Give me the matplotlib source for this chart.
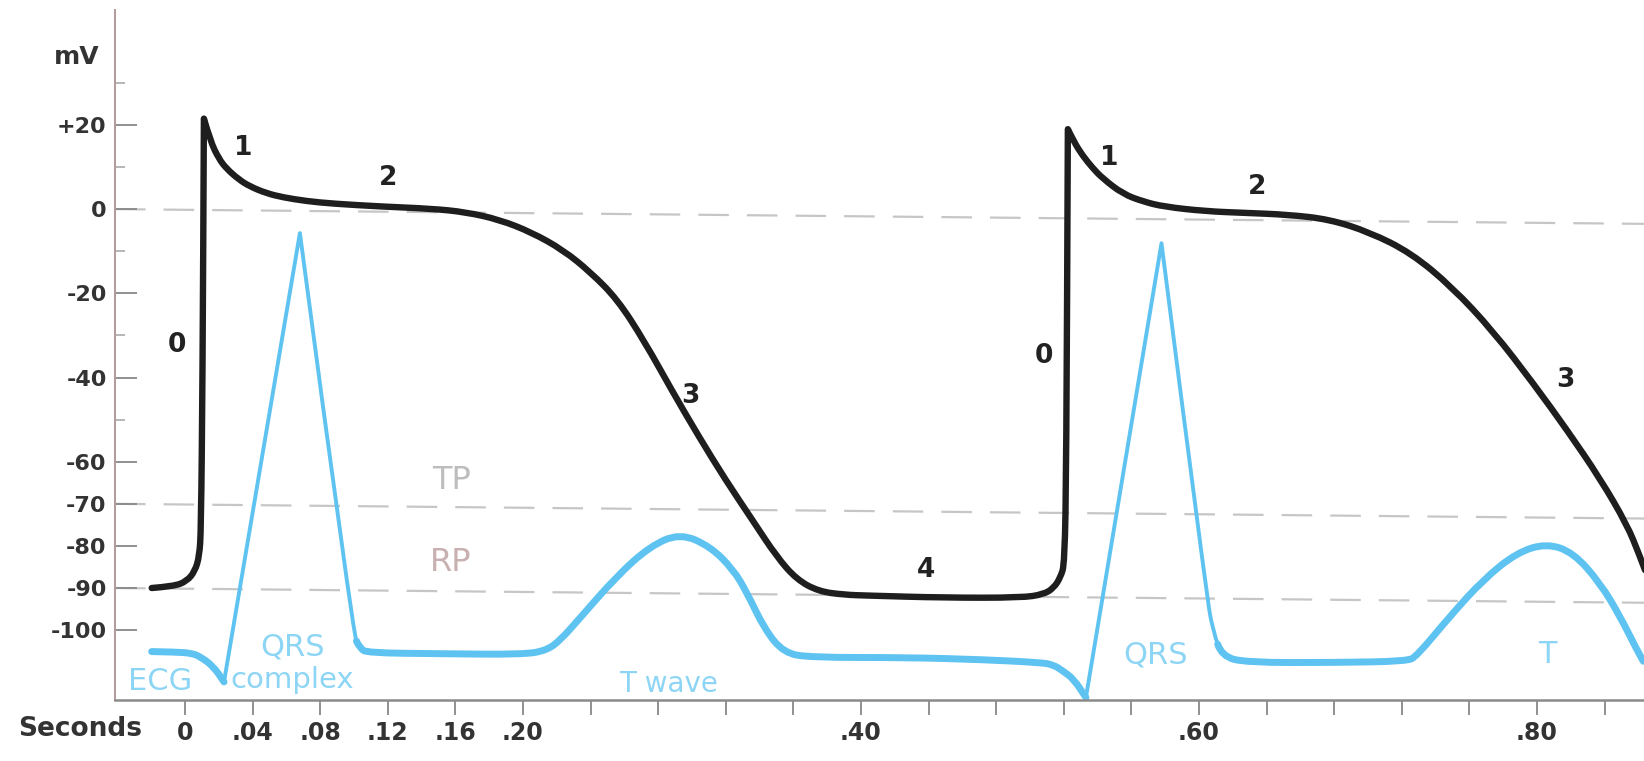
import matplotlib.pyplot as plt
import numpy as np
from matplotlib.path import Path
from matplotlib.patches import PathPatch

plt.rcParams['font.family'] = ['DejaVu Sans']
plt.rcParams['lines.scale_dashes'] = False

# --- data (time in s, potential in mV) ---
# ventricular action potential, two beats
ap_t = [-0.0197, -0.0068, 0.0010, 0.0059, 0.0085, 0.0095, 0.0104, 0.0112,
        0.0150, 0.0200, 0.0246, 0.0320, 0.0384, 0.0480, 0.0579, 0.0720,
        0.0874, 0.117, 0.146, 0.166, 0.186, 0.205, 0.2237, 0.240, 0.256,
        0.272, 0.288, 0.304, 0.320, 0.336, 0.350, 0.362, 0.375, 0.390,
        0.404, 0.449, 0.495, 0.508, 0.514, 0.518, 0.5205, 0.5215, 0.5224,
        0.526, 0.531, 0.537, 0.543, 0.555, 0.567, 0.579, 0.6036, 0.6278,
        0.652, 0.677, 0.701, 0.7254, 0.7497, 0.774, 0.7978, 0.8178,
        0.8373, 0.8533, 0.8604, 0.866]
ap_v = [-90.0, -89.6, -88.4, -86.0, -82.4, -76.1, -40.0, 21.5,
        16.2, 12.0, 9.6, 7.0, 5.4, 3.8, 2.8, 1.9,
        1.3, 0.6, 0.1, -0.7, -2.5, -5.5, -9.7, -15.0, -21.5,
        -31.5, -43.0, -54.0, -64.4, -74.0, -82.5, -88.0, -90.8, -91.6,
        -91.8, -92.3, -92.3, -91.5, -90.0, -87.5, -84.2, -60.0, 19.0,
        16.0, 12.8, 9.8, 7.3, 3.6, 1.8, 0.6, -0.5, -0.9,
        -1.3, -2.4, -5.5, -10.4, -18.5, -29.0, -41.4, -52.5,
        -64.0, -75.0, -82.0, -88.0]
ap_sharp = [7, 42]          # tips of the two upstrokes

# ECG trace drawn on the same time base
ecg_t = [-0.0197, -0.005, 0.004, 0.009, 0.0168, 0.0231, 0.0680, 0.0994,
         0.1035, 0.108, 0.150, 0.200, 0.2142, 0.2225, 0.2329, 0.2554,
         0.2751, 0.2929, 0.3107, 0.3244, 0.3324, 0.343, 0.3543,
         0.370, 0.4266, 0.472, 0.506, 0.5136, 0.5195, 0.526, 0.5331,
         0.5778, 0.6047, 0.6086, 0.6135, 0.628, 0.680, 0.7229, 0.7288,
         0.7485, 0.7682, 0.788, 0.8057, 0.8215, 0.8373, 0.8491, 0.859,
         0.8629]
ecg_v = [-105.1, -105.2, -105.5, -106.3, -108.6, -112.3, -5.7, -100.9,
         -104.3, -105.4, -105.6, -105.8, -104.8, -102.2, -97.5, -87.2,
         -80.1, -77.0, -80.1, -85.6, -91.0, -99.8, -105.4,
         -106.5, -106.5, -107.0, -107.7, -108.2, -109.7, -111.7, -116.0,
         -8.1, -92.7, -100.5, -106.2, -107.7, -107.7, -107.4, -106.2,
         -96.7, -88.0, -81.6, -79.4, -81.6, -88.8, -96.7, -104.6,
         -107.4]
ecg_sharp = [5, 6, 30, 31]  # Q and R corners
qrs_spans = [(0.0231, 0.1035), (0.5331, 0.6135)]

# dashed reference levels: 0, threshold (TP) and resting (RP) potential
ref_levels = [0, -70, -90]
ref_drift = -3.5

y_major = [20, 0, -20, -40, -60, -70, -80, -90, -100]
y_labels = ['+20', '0', '-20', '-40', '-60', '-70', '-80', '-90', '-100']
y_minor = [30, 10, -10, -30, -50]

x_ticks = [round(0.04 * k, 2) for k in range(22)]
x_shown = {0.0: '0', 0.04: '.04', 0.08: '.08', 0.12: '.12', 0.16: '.16',
           0.2: '.20', 0.4: '.40', 0.6: '.60', 0.8: '.80'}
x_labels = [x_shown.get(t, '') for t in x_ticks]

phase_labels = [('0', -0.0047, -32.2), ('1', 0.0343, 14.6), ('2', 0.1201, 7.4),
                ('3', 0.299, -44.3), ('4', 0.4385, -85.8), ('0', 0.5083, -34.8),
                ('1', 0.5467, 12.2), ('2', 0.6343, 5.3), ('3', 0.8166, -40.5)]
ecg_labels = [('ECG', -0.0148, -112.2, 22), ('QRS', 0.0639, -104.1, 22),
              ('complex', 0.0633, -111.9, 21), ('T wave', 0.2864, -112.9, 20),
              ('QRS', 0.574, -106.0, 22), ('T', 0.806, -105.8, 22)]

black = '#1e1e1e'
ecg_col = '#5ec3f0'
ecg_txt = '#8dd5f5'


def smooth_parts(xs, ys, sharp=()):
    """Quadratic-midpoint path through the read points; 'sharp' points stay corners.
    Also returns, for each vertex, the index of the data point it belongs to."""
    pts = list(zip(xs, ys))
    verts, codes, owner = [pts[0]], [Path.MOVETO], [0]
    for i in range(1, len(pts) - 1):
        if i in sharp:
            verts.append(pts[i])
            codes.append(Path.LINETO)
            owner.append(i)
            continue
        nx = pts[i + 1]
        mid = ((pts[i][0] + nx[0]) / 2, (pts[i][1] + nx[1]) / 2)
        verts += [pts[i], mid]
        codes += [Path.CURVE3, Path.CURVE3]
        owner += [i, i]
    verts.append(pts[-1])
    codes.append(Path.LINETO)
    owner.append(len(pts) - 1)
    return verts, codes, owner


def sub_path(parts, lo, hi):
    verts, codes, owner = parts
    idx = [k for k, o in enumerate(owner) if lo <= o <= hi]
    s, e = idx[0], idx[-1]
    if s == 0:
        return Path(verts[:e + 1], codes[:e + 1])
    return Path([verts[s - 1]] + verts[s:e + 1], [Path.MOVETO] + codes[s:e + 1])


def draw(ax, path, color, lw, z):
    ax.add_patch(PathPatch(path, fill=False, edgecolor=color, lw=lw,
                           joinstyle='round', capstyle='round', zorder=z))


fig = plt.figure(figsize=(16.44, 7.61), dpi=100)
ax = fig.add_axes([115 / 1644, 61 / 761, 1529 / 1644, 690 / 761])
ax.set_xlim(-0.0414, 0.8633)
ax.set_ylim(-116.6, 47.3)

x0, x1 = ax.get_xlim()
for lev in ref_levels:
    ln, = ax.plot([x0, x1], [lev, lev + ref_drift], color='#c6c6c6', lw=1.6, zorder=1)
    ln.set_dashes([22, 13])

# ECG: thin QRS strokes, heavier baseline and T waves
ecg_parts = smooth_parts(ecg_t, ecg_v, ecg_sharp)
draw(ax, Path(ecg_parts[0], ecg_parts[1]), ecg_col, 2.8, 2)
ecg_arr = np.array(ecg_t)
in_qrs = np.zeros(len(ecg_t), bool)
for a, b in qrs_spans:
    in_qrs |= (ecg_arr > a) & (ecg_arr < b)
start = 0
for i in range(len(ecg_t) + 1):
    if i == len(ecg_t) or in_qrs[i]:
        if i - start >= 2:
            draw(ax, sub_path(ecg_parts, start, i - 1), ecg_col, 5.0, 2)
        start = i + 1

ap_parts = smooth_parts(ap_t, ap_v, ap_sharp)
draw(ax, Path(ap_parts[0], ap_parts[1]), black, 4.6, 3)

for s, t, v in phase_labels:
    ax.text(t, v, s, fontsize=19, fontweight='bold', color='#222222',
            ha='center', va='center')
for s, t, v, fs in ecg_labels:
    ax.text(t, v, s, fontsize=fs, color=ecg_txt, ha='center', va='center')
ax.text(0.158, -64.5, 'TP', fontsize=23, color='#bdbdbd', ha='center', va='center')
ax.text(0.1574, -83.9, 'RP', fontsize=23, color='#c9b0b0', ha='center', va='center')

ax.text(-0.0639, 36.1, 'mV', fontsize=18, fontweight='bold', color='#333333',
        ha='center', va='center')
ax.text(-0.0621, -123.6, 'Seconds', fontsize=19, fontweight='bold', color='#333333',
        ha='center', va='center', clip_on=False)

# axes styling
for side in ['top', 'right']:
    ax.spines[side].set_visible(False)
ax.spines['left'].set_color('#b39a9a')
ax.spines['left'].set_linewidth(1.4)
ax.spines['bottom'].set_color('#8a8a8a')
ax.spines['bottom'].set_linewidth(1.8)

ax.set_yticks(y_major)
ax.set_yticklabels(y_labels)
ax.set_yticks(y_minor, minor=True)
ax.tick_params(axis='y', which='major', direction='in', length=16, width=1.3,
               color='#888888', pad=6, labelsize=16, labelcolor='#333333')
ax.tick_params(axis='y', which='minor', direction='in', length=7, width=1.2,
               color='#aaaaaa')
ax.set_xticks(x_ticks)
ax.set_xticklabels(x_labels)
ax.tick_params(axis='x', direction='out', length=11, width=1.3, color='#888888',
               pad=4, labelsize=17, labelcolor='#333333')
for lbl in ax.get_xticklabels() + ax.get_yticklabels():
    lbl.set_fontweight('bold')

fig.savefig('out.png', dpi=100)
